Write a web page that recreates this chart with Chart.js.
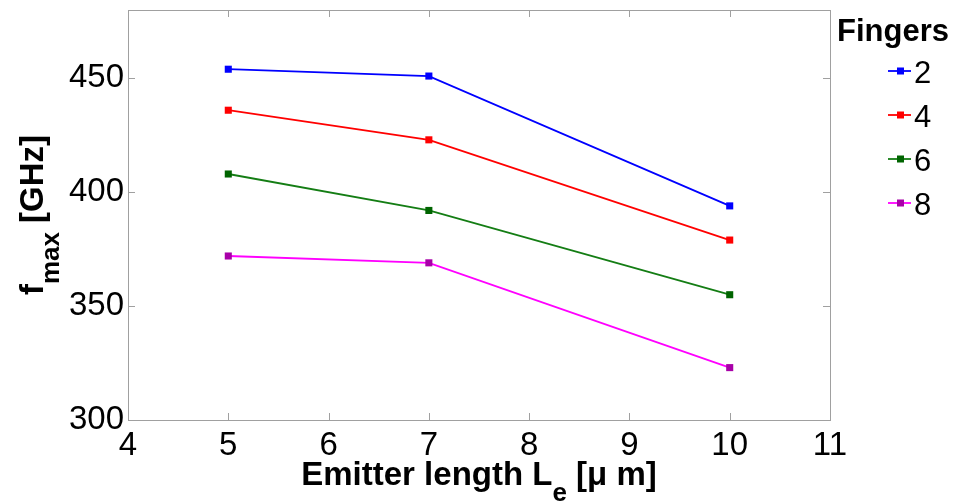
<!DOCTYPE html>
<html lang="en">
<head>
  <meta charset="UTF-8">
  <title>fmax vs emitter length</title>
  <script src="https://cdn.jsdelivr.net/npm/chart.js"></script>
  <style>
    html, body { margin: 0; padding: 0; background: #fff; }
    #wrap { width: 973px; height: 502px; }
  </style>
</head>
<body>
  <div id="wrap"><canvas id="grafico" width="973" height="502"></canvas></div>

  <script>
    // data
    const emitterLength = [5, 7, 10];
    const fingers = ['2', '4', '6', '8'];
    const fmax2 = [454, 451, 394];
    const fmax4 = [436, 423, 379];
    const fmax6 = [408, 392, 355];
    const fmax8 = [372, 369, 323];
    const xTicks = [4, 5, 6, 7, 8, 9, 10, 11];
    const yTicks = [300, 350, 400, 450];

    const lineColors = ['#0000ff', '#ff0000', '#147d14', '#ff00ff'];
    const markColors = ['#0000ff', '#ff0000', '#006400', '#a800a8'];
    const FONT = 'Liberation Sans, Arial, Helvetica, sans-serif';

    const series = [fmax2, fmax4, fmax6, fmax8];
    const datasets = series.map((vals, i) => ({
      label: fingers[i],
      data: emitterLength.map((x, j) => ({ x: x, y: vals[j] })),
      borderColor: lineColors[i],
      backgroundColor: markColors[i],
      pointBorderColor: markColors[i],
      pointBackgroundColor: markColors[i],
      borderWidth: 1.8,
      pointStyle: 'rect',
      pointRadius: 5,
      pointBorderWidth: 0,
      tension: 0,
      fill: false
    }));

    // draws text pieces with subscripts, along +x of current transform
    function drawParts(ctx, parts, cx, baseY) {
      const main = 'bold 33px ' + FONT;
      const sub = 'bold 26px ' + FONT;
      let total = 0;
      parts.forEach(p => {
        ctx.font = p.sub ? sub : main;
        p.w = ctx.measureText(p.t).width;
        total += p.w;
      });
      let x = cx - total / 2;
      ctx.textAlign = 'left';
      ctx.textBaseline = 'alphabetic';
      ctx.fillStyle = '#000';
      parts.forEach(p => {
        ctx.font = p.sub ? sub : main;
        ctx.fillText(p.t, x, baseY + (p.sub ? 16 : 0));
        x += p.w;
      });
    }

    const decor = {
      id: 'decor',
      beforeDatasetsDraw(chart) {
        const ctx = chart.ctx;
        const a = chart.chartArea;
        const xs = chart.scales.x, ys = chart.scales.y;
        ctx.save();
        ctx.strokeStyle = '#a0a0a0';
        ctx.lineWidth = 1;
        ctx.strokeRect(a.left + 0.5, a.top + 0.5, a.right - a.left, a.bottom - a.top);
        ctx.beginPath();
        xTicks.forEach(v => {
          const px = Math.round(xs.getPixelForValue(v)) + 0.5;
          ctx.moveTo(px, a.bottom); ctx.lineTo(px, a.bottom - 7);
          ctx.moveTo(px, a.top); ctx.lineTo(px, a.top + 7);
        });
        yTicks.forEach(v => {
          const py = Math.round(ys.getPixelForValue(v)) + 0.5;
          ctx.moveTo(a.left, py); ctx.lineTo(a.left + 7, py);
          ctx.moveTo(a.right, py); ctx.lineTo(a.right - 7, py);
        });
        ctx.stroke();
        ctx.restore();
      },
      afterDraw(chart) {
        const ctx = chart.ctx;
        const a = chart.chartArea;
        ctx.save();
        // x title
        drawParts(ctx, [
          { t: 'Emitter length L' }, { t: 'e', sub: true }, { t: ' [\u03bc m]' }
        ], (a.left + a.right) / 2, 485);
        // y title
        ctx.save();
        ctx.translate(43, (a.top + a.bottom) / 2);
        ctx.rotate(-Math.PI / 2);
        drawParts(ctx, [
          { t: 'f' }, { t: 'max', sub: true }, { t: ' [GHz]' }
        ], 0, 0);
        ctx.restore();

        // legend
        ctx.fillStyle = '#000';
        ctx.font = 'bold 31px ' + FONT;
        ctx.textAlign = 'left';
        ctx.textBaseline = 'middle';
        ctx.fillText('Fingers', 837, 32);
        chart.data.datasets.forEach((ds, i) => {
          const y = 71 + i * 44;
          ctx.strokeStyle = ds.borderColor;
          ctx.lineWidth = 1.8;
          ctx.beginPath();
          ctx.moveTo(888, y); ctx.lineTo(911, y);
          ctx.stroke();
          ctx.fillStyle = ds.pointBackgroundColor;
          ctx.fillRect(897, y - 3.5, 7, 7);
          ctx.fillStyle = '#000';
          ctx.font = '31px ' + FONT;
          ctx.fillText(ds.label, 914, y + 3);
        });
        ctx.restore();
      }
    };

    const ctx = document.getElementById('grafico').getContext('2d');
    const chart = new Chart(ctx, {
      type: 'line',
      data: { datasets: datasets },
      options: {
        responsive: false,
        animation: false,
        layout: { padding: { top: 10, right: 143, left: 0, bottom: 0 } },
        plugins: { legend: { display: false }, tooltip: { enabled: false } },
        scales: {
          x: {
            type: 'linear',
            min: 4, max: 11,
            afterBuildTicks: s => { s.ticks = xTicks.map(v => ({ value: v })); },
            afterFit: s => { s.height = 82; s.paddingLeft = 0; s.paddingRight = 0; },
            grid: { display: false, drawTicks: false },
            border: { display: false },
            ticks: { color: '#000', padding: 6, font: { family: FONT, size: 33 } }
          },
          y: {
            min: 300, max: 480,
            afterBuildTicks: s => { s.ticks = yTicks.map(v => ({ value: v })); },
            afterFit: s => { s.width = 128; s.paddingTop = 0; s.paddingBottom = 0; },
            grid: { display: false, drawTicks: false },
            border: { display: false },
            ticks: { color: '#000', padding: 4, font: { family: FONT, size: 33 } }
          }
        }
      },
      plugins: [decor]
    });
  </script>
</body>
</html>
